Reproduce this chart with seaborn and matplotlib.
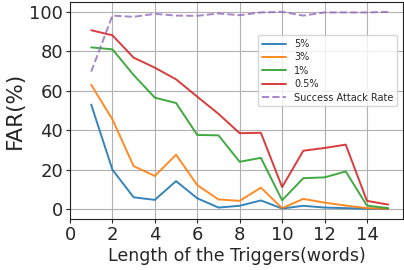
import pandas as pd
import seaborn as sns
import matplotlib.pyplot as plt

lengths = list(range(1, 16))
far_5 = [53, 20, 6, 4.7, 14.2, 5.5, 0.8, 1.7, 4.4, 0.3, 1.7, 0.8, 0.5, 0.2, 0.2]
far_3 = [63, 45.5, 21.8, 16.8, 27.6, 12.2, 4.9, 4.2, 10.9, 0.5, 5.2, 3.3, 1.8, 0.5, 0.2]
far_1 = [82, 81, 68, 56.5, 53.8, 37.6, 37.4, 24, 26, 4.5, 15.7, 16.1, 19.1, 1.8, 0.5]
far_05 = [90.7, 88.1, 76.8, 71.7, 65.8, 57, 48.3, 38.5, 38.7, 11.2, 29.6, 31, 32.7, 4.2, 2.3]
success = [69.7, 98.1, 97.5, 99, 98.1, 98, 99.2, 98.3, 99.7, 100, 98.1, 99.7, 99.7, 99.7, 100]

series = [('5%', far_5), ('3%', far_3), ('1%', far_1), ('0.5%', far_05)]

rows = []
for name, vals in series:
    for x, v in zip(lengths, vals):
        rows.append({'length': x, 'far': v, 'rate': name})
df = pd.DataFrame(rows)

sns.set_style('ticks')
plt.rcParams['font.family'] = ['DejaVu Sans']

fig, ax = plt.subplots(figsize=(4.04, 2.70), dpi=100)
fig.subplots_adjust(left=70 / 404, right=403 / 404, top=1 - 2 / 270, bottom=1 - 219 / 270)

palette = sns.color_palette('tab10', 5)
sns.lineplot(data=df, x='length', y='far', hue='rate', palette=palette[:4],
             ax=ax, alpha=0.9, linewidth=1.4)
sns.lineplot(x=lengths, y=success, ax=ax, color=palette[4], alpha=0.8,
             linestyle='--', linewidth=1.4, label='Success Attack Rate')

ax.grid(True, color='#b0b0b0', linewidth=0.8)
ax.set_xlim(0, 15.7)
ax.set_ylim(-5, 105)
ax.set_xticks([0, 2, 4, 6, 8, 10, 12, 14])
ax.set_yticks([0, 20, 40, 60, 80, 100])
ax.tick_params(labelsize=13, length=3, pad=2)
ax.set_xlabel('Length of the Triggers(words)', fontsize=12.5, labelpad=2)
ax.set_ylabel('FAR(%)', fontsize=15.5, labelpad=3)
for s in ax.spines.values():
    s.set_color('#222222')

ax.legend(loc='upper left', bbox_to_anchor=(0.55, 0.87), fontsize=7,
          frameon=True, handlelength=2.5, labelspacing=0.35)

fig.savefig('out.png', dpi=100)
